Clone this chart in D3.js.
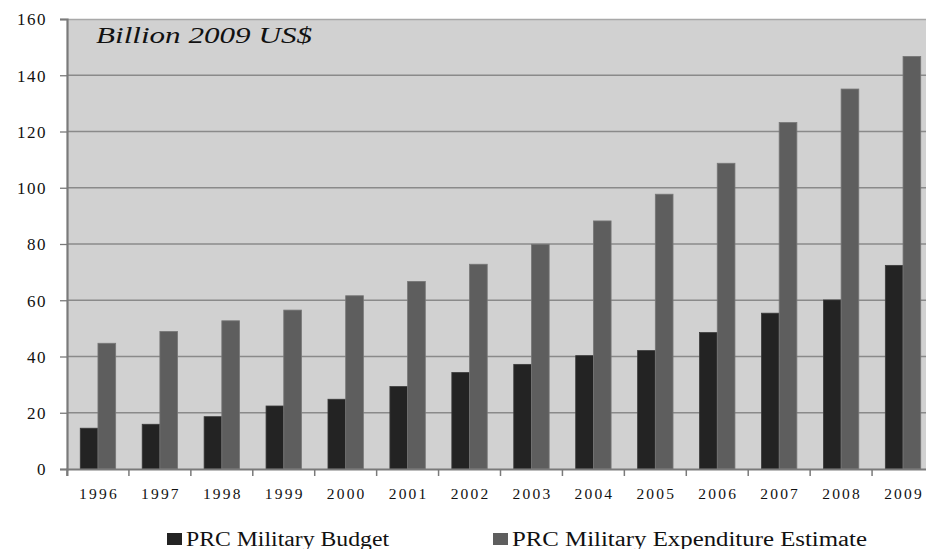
<!DOCTYPE html>
<html>
<head>
<meta charset="utf-8">
<script src="https://cdn.jsdelivr.net/npm/d3@7"></script>
<style>
  html, body { margin: 0; padding: 0; background: #ffffff; }
  svg { display: block; }
  svg text { font-family: "Liberation Serif", "Times New Roman", Times, "DejaVu Serif", serif; }
</style>
</head>
<body>
<svg id="chart" width="926" height="549"></svg>
<script>
const years = ["1996","1997","1998","1999","2000","2001","2002","2003","2004","2005","2006","2007","2008","2009"];
const budget = [14.5, 15.9, 18.6, 22.4, 24.8, 29.3, 34.3, 37.2, 40.3, 42.1, 48.5, 55.4, 60.1, 72.4];
const estimate = [44.7, 48.9, 52.7, 56.5, 61.6, 66.7, 72.8, 79.9, 88.2, 97.7, 108.7, 123.2, 135.1, 146.7];
const seriesNames = ["PRC Military Budget", "PRC Military Expenditure Estimate"];
const yTicks = [0, 20, 40, 60, 80, 100, 120, 140, 160];
const unitLabel = "Billion 2009 US$";

(function () {
const svg = d3.select("#chart");
const pL = 67, pT = 19, pB = 469, pR = 934;

const x = d3.scaleBand().domain(years).range([pL, pR]).paddingInner(0).paddingOuter(0);
const y = d3.scaleLinear().domain([0, 160]).range([pB, pT]);

// plot background
svg.append("rect").attr("x", pL).attr("y", pT).attr("width", pR - pL).attr("height", pB - pT)
  .attr("fill", "#d1d1d1");
svg.append("line").attr("x1", pL).attr("x2", pR).attr("y1", pT + 0.5).attr("y2", pT + 0.5)
  .attr("stroke", "#a8a8a8").attr("stroke-width", 1.5);

// gridlines
svg.append("g").selectAll("line").data(yTicks.filter(d => d > 0 && d < 160)).join("line")
  .attr("x1", pL).attr("x2", pR)
  .attr("y1", d => y(d)).attr("y2", d => y(d))
  .attr("stroke", "#8a8a8a").attr("stroke-width", 1.3);

// bars
const bw = x.bandwidth() / 3.5;
const groups = [budget, estimate];
const fills = ["#232323", "#5e5e5e"];
const strokes = ["#3a3a3a", "#777777"];
groups.forEach((vals, si) => {
  svg.append("g").selectAll("rect").data(years).join("rect")
    .attr("x", (d) => x(d) + x.bandwidth() / 2 - bw + si * bw)
    .attr("y", (d, i) => y(vals[i]))
    .attr("width", bw)
    .attr("height", (d, i) => y(0) - y(vals[i]))
    .attr("fill", fills[si])
    .attr("stroke", strokes[si]).attr("stroke-width", 0.8);
});

// y axis
const yAxis = d3.axisLeft(y).tickValues(yTicks).tickSize(7).tickPadding(13).tickFormat(d3.format("d"));
const gy = svg.append("g").attr("transform", `translate(${pL},0)`).call(yAxis);
gy.attr("font-family", null);
gy.select(".domain").attr("stroke", "#7a7a7a").attr("stroke-width", 2.2);
gy.selectAll(".tick line").attr("stroke", "#7a7a7a").attr("stroke-width", 1.3);
gy.selectAll(".tick text").attr("font-size", "17px")
  .attr("fill", "#111").attr("letter-spacing", "1.5px").attr("dy", "0.35em");

// x axis
const xAxis = d3.axisBottom(x).tickSize(7).tickPadding(12);
const gx = svg.append("g").attr("transform", `translate(0,${pB})`).call(xAxis);
gx.attr("font-family", null);
gx.select(".domain").attr("stroke", "#7a7a7a").attr("stroke-width", 2);
gx.selectAll(".tick line").attr("stroke", "#7a7a7a").attr("stroke-width", 1.5)
  .attr("transform", `translate(${-x.bandwidth() / 2},0)`);
gx.selectAll(".tick text").attr("font-size", "15.5px")
  .attr("fill", "#111").attr("letter-spacing", "2.2px").attr("dx", "1px");

// unit label
svg.append("text").attr("x", 96).attr("y", 43).text(unitLabel)
  .attr("font-style", "italic").attr("font-size", "23px").attr("fill", "#111")
  .attr("textLength", 216).attr("lengthAdjust", "spacingAndGlyphs");

// legend
const legendX = [167, 493];
const legendW = [203, 355];
seriesNames.forEach((name, i) => {
  svg.append("rect").attr("x", legendX[i]).attr("y", 533).attr("width", 15).attr("height", 12)
    .attr("fill", fills[i]);
  svg.append("text").attr("x", legendX[i] + 19).attr("y", 545.5).text(name)
    .attr("font-size", "20px").attr("fill", "#111")
    .attr("textLength", legendW[i]).attr("lengthAdjust", "spacingAndGlyphs");
});
})();
</script>
</body>
</html>
